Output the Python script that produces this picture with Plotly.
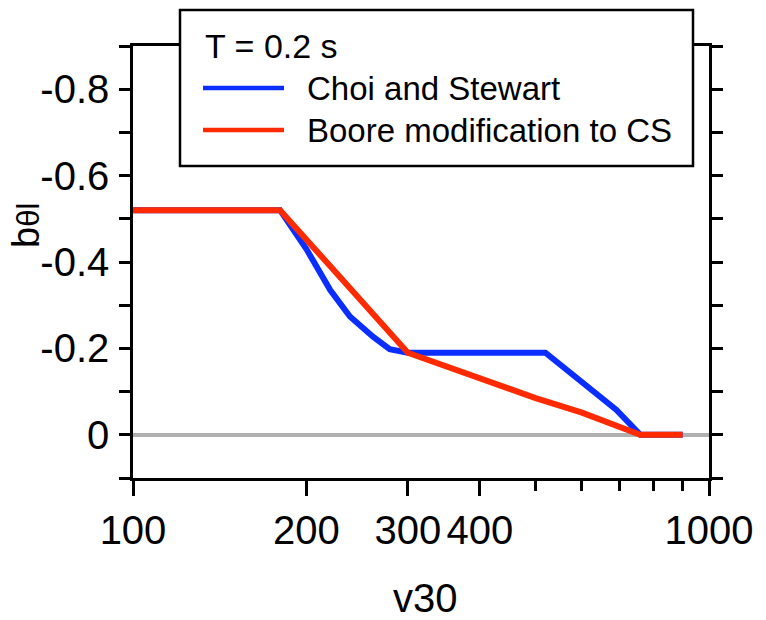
import plotly.graph_objects as go

# ---- data ----
vs30_cs = [100, 180, 200, 220, 238, 261, 279, 300, 520, 605, 690, 760, 900]
blin_cs = [-0.52, -0.52, -0.43, -0.335, -0.274, -0.227, -0.198, -0.19, -0.19, -0.12, -0.058, 0.0, 0.0]

vs30_boore = [100, 180, 300, 400, 500, 600, 760, 900]
blin_boore = [-0.52, -0.52, -0.19, -0.13, -0.085, -0.052, 0.0, 0.0]

series_names = ["Choi and Stewart", "Boore modification to CS"]
series_colors = ["#0A2EFF", "#FF2A00"]
legend_title = "T = 0.2 s"

x_major = [100, 200, 300, 400, 1000]
x_major_text = ["100", "200", "300", "400", "1000"]
x_minor = [500, 600, 700, 800, 900]

y_ticks = [-0.9, -0.8, -0.7, -0.6, -0.5, -0.4, -0.3, -0.2, -0.1, 0.0, 0.1]
y_ticktext = ["", "-0.8", "", "-0.6", "", "-0.4", "", "-0.2", "", "0", ""]

x_title = "v30"
y_title = "b<span style='font-size:31px'>θl</span>"

FONT = "Arial, Liberation Sans, sans-serif"

# ---- figure ----
W, H = 766, 620
L, R, T, B = 133, 57, 46, 142
PW, PH = W - L - R, H - T - B


def px_x(p):
    return (p - L) / PW


def px_y(p):
    return (H - B - p) / PH


fig = go.Figure()
fig.add_trace(go.Scatter(x=vs30_cs, y=blin_cs, mode="lines", name=series_names[0],
                         line=dict(color=series_colors[0], width=6), showlegend=False))
fig.add_trace(go.Scatter(x=vs30_boore, y=blin_boore, mode="lines", name=series_names[1],
                         line=dict(color=series_colors[1], width=6), showlegend=False))

fig.update_layout(
    width=W, height=H,
    margin=dict(l=L, r=R, t=T, b=B, pad=0),
    paper_bgcolor="white", plot_bgcolor="white",
    font=dict(family=FONT, color="black"),
    showlegend=False,
)

fig.update_xaxes(
    type="log", range=[2, 3],
    tickvals=x_major, ticktext=x_major_text,
    ticks="outside", ticklen=15, tickwidth=2.5, tickcolor="black",
    minor=dict(tickvals=x_minor, ticks="outside", ticklen=10, tickwidth=2.5, tickcolor="black"),
    showline=True, linewidth=2.5, linecolor="black", mirror=True,
    showgrid=False, zeroline=False,
    tickfont=dict(size=40, family=FONT, color="black"),
)
fig.update_yaxes(
    range=[0.1, -0.9],
    tickvals=y_ticks, ticktext=y_ticktext,
    ticks="outside", ticklen=11, tickwidth=2.5, tickcolor="black",
    showline=True, linewidth=2.5, linecolor="black", mirror="allticks",
    showgrid=False,
    zeroline=True, zerolinecolor="#B0B0B0", zerolinewidth=4,
    tickfont=dict(size=40, family=FONT, color="black"),
    ticklabelstandoff=2,
)

# axis titles
fig.add_annotation(text=x_title, xref="paper", yref="paper", x=px_x(425), y=px_y(598),
                   xanchor="center", yanchor="middle", showarrow=False,
                   font=dict(size=40, family=FONT, color="black"))
fig.add_annotation(text=y_title, xref="paper", yref="paper", x=px_x(26), y=px_y(226),
                   xanchor="center", yanchor="middle", showarrow=False, textangle=-90,
                   font=dict(size=38, family=FONT, color="black"))

# legend box (drawn manually to match the long line samples)
fig.add_shape(type="rect", xref="paper", yref="paper",
              x0=px_x(180), x1=px_x(693), y0=px_y(166), y1=px_y(10),
              line=dict(color="black", width=2.5), fillcolor="white", layer="above")
fig.add_annotation(text=legend_title, xref="paper", yref="paper", x=px_x(203), y=px_y(46),
                   xanchor="left", yanchor="middle", showarrow=False,
                   font=dict(size=34, family=FONT, color="black"))
for i, (nm, col) in enumerate(zip(series_names, series_colors)):
    yy = [88, 130][i]
    fig.add_shape(type="line", xref="paper", yref="paper",
                  x0=px_x(203), x1=px_x(284), y0=px_y(yy), y1=px_y(yy),
                  line=dict(color=col, width=4.5), layer="above")
    fig.add_annotation(text=nm, xref="paper", yref="paper", x=px_x(305), y=px_y(yy),
                       xanchor="left", yanchor="middle", showarrow=False,
                       font=dict(size=33, family=FONT, color="black"))

fig.write_html("out.html")
